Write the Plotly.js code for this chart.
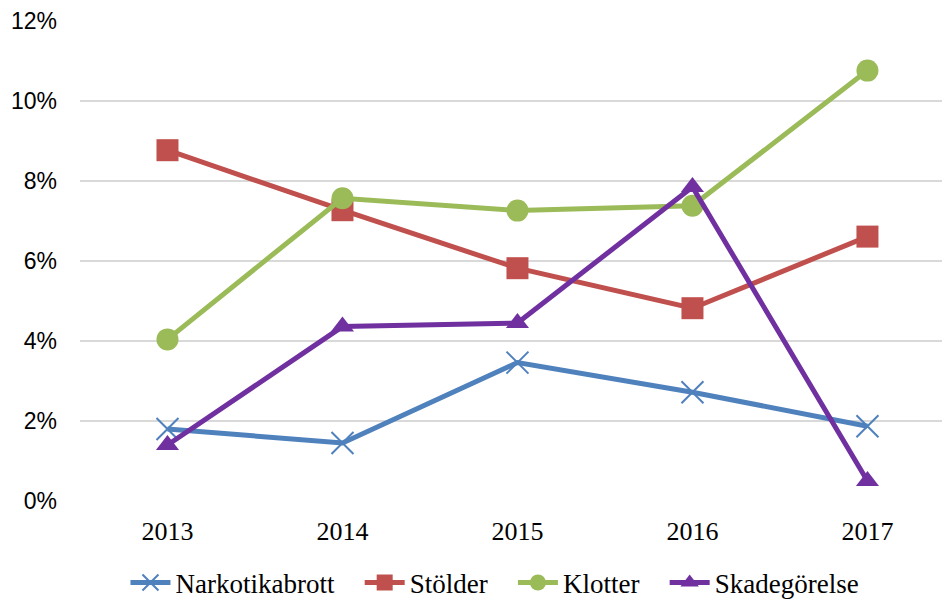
<!DOCTYPE html>
<html>
<head>
<meta charset="utf-8">
<script src="https://cdn.plot.ly/plotly-3.0.1.min.js"></script>
<style>
  body { margin: 0; background: #fff; }
  #chart { width: 942px; height: 601px; }
</style>
</head>
<body>
<div id="chart"></div>
<script>
var years = ['2013', '2014', '2015', '2016', '2017'];

var narkotikabrott = [0.0180, 0.0145, 0.0346, 0.0272, 0.0187];
var stolder = [0.0877, 0.0727, 0.0582, 0.0482, 0.0661];
var klotter = [0.0404, 0.0757, 0.0726, 0.0738, 0.1076];
var skadegorelse = [0.0140, 0.0436, 0.0445, 0.0785, 0.0050];

var yTicks = [0, 0.02, 0.04, 0.06, 0.08, 0.10, 0.12];

// extra spacing after each legend label
var pad = '\u00a0\u00a0\u00a0';

function serie(name, y, color, symbol, msize, mline) {
  return {
    type: 'scatter',
    mode: 'lines+markers',
    name: name + pad,
    x: years,
    y: y,
    line: { color: color, width: 5 },
    marker: {
      symbol: symbol,
      size: msize,
      color: color,
      line: mline || { width: 0 }
    }
  };
}

var data = [
  serie('Narkotikabrott', narkotikabrott, '#4F81BD', 'x-thin', 22, { color: '#4F81BD', width: 2 }),
  serie('Stölder', stolder, '#C0504D', 'square', 22),
  serie('Klotter', klotter, '#9BBB59', 'circle', 22),
  serie('Skadegörelse', skadegorelse, '#7030A0', 'triangle-up', 20)
];

var layout = {
  width: 942,
  height: 601,
  margin: { l: 80, r: 0, t: 21, b: 100 },
  paper_bgcolor: '#fff',
  plot_bgcolor: '#fff',
  showlegend: true,
  xaxis: {
    type: 'category',
    range: [-0.5, 4.426],
    showgrid: false,
    zeroline: false,
    showline: false,
    ticks: '',
    ticklabelstandoff: 12,
    tickfont: { family: 'Liberation Serif, serif', size: 26, color: '#000' }
  },
  yaxis: {
    range: [0, 0.12],
    tickvals: yTicks,
    tickformat: '.0%',
    showgrid: true,
    gridcolor: '#D9D9D9',
    gridwidth: 2,
    zeroline: false,
    showline: false,
    ticks: '',
    ticklabelstandoff: 22,
    tickfont: { family: 'Liberation Sans, Arial, sans-serif', size: 23, color: '#000' }
  },
  legend: {
    orientation: 'h',
    x: 0.493,
    xanchor: 'center',
    yref: 'container',
    y: 0.03,
    yanchor: 'middle',
    itemwidth: 40,
    font: { family: 'Liberation Serif, serif', size: 27, color: '#000' }
  }
};

Plotly.newPlot('chart', data, layout, { displayModeBar: false });
</script>
</body>
</html>
